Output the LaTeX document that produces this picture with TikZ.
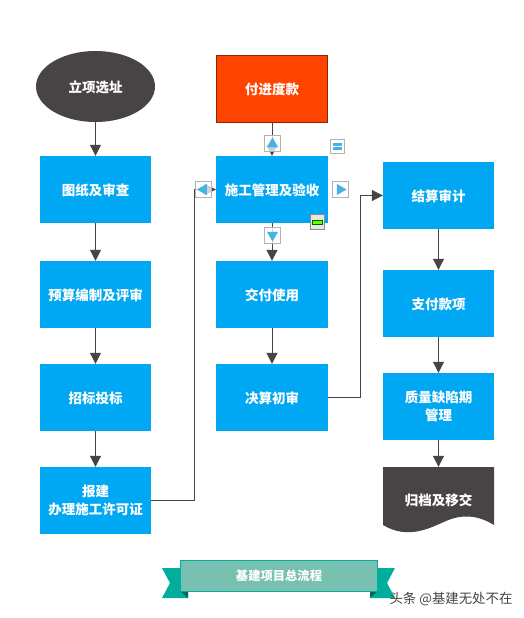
\documentclass[tikz,border=0pt]{standalone}
\usepackage{fontspec}
\newfontfamily\cjk{Noto Sans CJK SC}
\usetikzlibrary{arrows.meta, shapes.geometric}
\definecolor{boxblue}{RGB}{0, 168, 243}
\definecolor{darkgrey}{RGB}{72, 67, 68}
\definecolor{payred}{RGB}{255, 68, 0}
\definecolor{ribbonfill}{RGB}{120, 192, 176}
\definecolor{ribbontail}{RGB}{0, 174, 155}
\definecolor{iconblue}{RGB}{70, 180, 226}

\begin{document}
\begin{tikzpicture}[
  x=1pt, y=-1pt,
  boxfont/.style={font=\cjk\bfseries\fontsize{13.5}{18}\selectfont, text=white},
  stepbox/.style={boxfont, fill=boxblue, minimum width=111pt, minimum height=67pt, inner sep=0, align=center},
  oneline/.style={text height=13pt, text depth=1.5pt},
  link/.style={draw=darkgrey, line width=1pt, -{Triangle[length=11pt, width=11pt]}},
  btn/.style={draw=black!30, line width=0.8pt, fill=white, fill opacity=0.75, minimum size=16.5pt, inner sep=0},
  tri/.style={regular polygon, regular polygon sides=3, fill=iconblue, minimum size=13pt, inner sep=0}
]
  \useasboundingbox (0,0) rectangle (524,618);
  \fill[white] (0,0) rectangle (524,618);

  % Left column
  \node[ellipse, boxfont, oneline, fill=darkgrey, minimum width=119pt, minimum height=71pt, inner sep=0] (site) at (95.5, 86.5) {立项选址};
  \node[stepbox, oneline] (review) at (95.5, 189.5) {图纸及审查};
  \node[stepbox, oneline] (budget) at (95.5, 294.5) {预算编制及评审};
  \node[stepbox, oneline] (tender) at (95.5, 397.5) {招标投标};
  \node[stepbox] (permit) at (95.5, 500.5) {报建\\办理施工许可证};

  % Middle column
  \node[stepbox, oneline, fill=payred, draw=payred!55!black, line width=0.8pt] (pay) at (272, 88.5) {付进度款};
  \node[stepbox, oneline, minimum width=112pt] (build) at (272, 189.5) {施工管理及验收};
  \node[stepbox, oneline, minimum width=112pt] (deliver) at (272, 294.5) {交付使用};
  \node[stepbox, oneline, minimum width=112pt] (prelim) at (272, 397.5) {决算初审};

  % Right column
  \node[stepbox, oneline] (audit) at (438.5, 195.5) {结算审计};
  \node[stepbox, oneline] (payment) at (438.5, 303.5) {支付款项};
  \node[stepbox] (defect) at (438.5, 406.5) {质量缺陷期\\管理};
  \fill[darkgrey] (383,467) -- (494,467) -- (494,525) .. controls (478,515) and (462,514) .. (446,521) .. controls (430,528) and (408,540) .. (383,525) -- cycle;
  \node[boxfont, oneline, minimum width=111pt, minimum height=66pt, inner sep=0] (archive) at (438.5, 500) {归档及移交};

  % Arrows
  \draw[link] (site) -- (review);
  \draw[link] (review) -- (budget);
  \draw[link] (budget) -- (tender);
  \draw[link] (tender) -- (permit);
  \draw[link] (pay) -- (build);
  \draw[link] (build) -- (deliver);
  \draw[link] (deliver) -- (prelim);
  \draw[link] (audit) -- (payment);
  \draw[link] (payment) -- (defect);
  \draw[link] (defect) -- (archive);
  \coordinate (elbowa) at (194, 500.5);
  \coordinate (elbowb) at (194, 189.5);
  \coordinate (elbowc) at (360, 397.5);
  \coordinate (elbowd) at (360, 195.5);
  \draw[link] (permit.east) -- (elbowa) -- (elbowb) -- (build.west);
  \draw[link] (prelim.east) -- (elbowc) -- (elbowd) -- (audit.west);

  % Buttons
  \node[btn] (btnup) at (272.5, 143.5) {};
  \node[tri] (triup) at (272.5, 144) {};
  \node[btn] (btndown) at (272.5, 235.5) {};
  \node[tri, shape border rotate=180] (tridown) at (272.5, 235) {};
  \node[btn] (btnleft) at (203.5, 189.5) {};
  \node[tri, shape border rotate=90] (trileft) at (203.5, 189.5) {};
  \node[btn, fill opacity=1] (btnright) at (340.5, 189.5) {};
  \node[tri, shape border rotate=-90] (triright) at (340, 189.5) {};
  \node[btn, fill opacity=1, minimum size=14.5pt] (btnlist) at (337.5, 146.5) {};
  \node[fill=iconblue, minimum width=9pt, minimum height=2.5pt, inner sep=0] (barone) at (337.5, 144.5) {};
  \node[fill=iconblue, minimum width=9pt, minimum height=2.5pt, inner sep=0] (bartwo) at (337.5, 148.5) {};
  \node[btn, fill opacity=1, fill=black!10, minimum size=14.5pt, draw=black!45] (btngreen) at (317.5, 222) {};
  \node[fill=green!60!yellow, draw=green!40!black, line width=0.5pt, minimum width=10pt, minimum height=4pt, inner sep=0] (bargreen) at (317.5, 222.5) {};

  % Ribbon
  \fill[ribbontail] (162,568) -- (188,568) -- (188,598) -- (162,598) -- (170,583) -- cycle;
  \fill[ribbontail] (395,568) -- (370,568) -- (370,598) -- (395,598) -- (387,583) -- cycle;
  \fill[ribbontail!60!black] (180,591) -- (188,591) -- (188,598) -- cycle;
  \fill[ribbontail!60!black] (378,591) -- (370,591) -- (370,598) -- cycle;
  \node[draw=ribbontail, fill=ribbonfill, line width=0.8pt, minimum width=197pt, minimum height=31pt, inner sep=0, text=white, font=\cjk\bfseries\fontsize{12.3}{14}\selectfont] (banner) at (279, 575.5) {基建项目总流程};

  % Watermark
  \node[text=darkgrey, inner sep=0, font=\cjk\fontsize{13.4}{15}\selectfont] (mark) at (451, 599.5) {头条 @基建无处不在};
\end{tikzpicture}
\end{document}
